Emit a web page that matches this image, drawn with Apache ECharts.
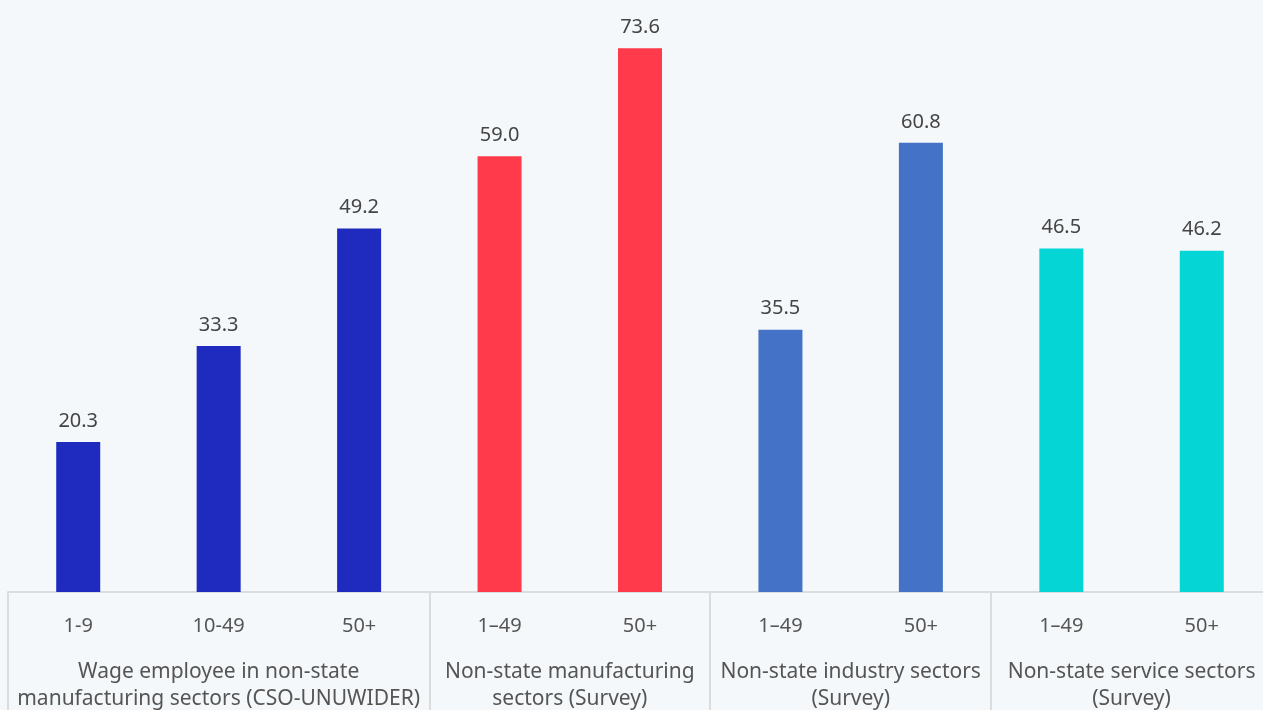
<!DOCTYPE html>
<html>
<head>
<meta charset="utf-8">
<script src="https://cdn.jsdelivr.net/npm/echarts@6/dist/echarts.min.js"></script>
<style>
  html, body { margin: 0; padding: 0; background: #f5f8fa; }
  #chart { width: 1263px; height: 710px; }
</style>
</head>
<body>
<div id="chart"></div>
<script>
// Firm-size bands within each sector group
const categories = ['1-9', '10-49', '50+', '1–49', '50+', '1–49', '50+', '1–49', '50+'];
const values = [20.3, 33.3, 49.2, 59.0, 73.6, 35.5, 60.8, 46.5, 46.2];
// Group index for each bar
const groupOf = [0, 0, 0, 1, 1, 2, 2, 3, 3];
const groupNames = [
  'Wage employee in non-state\nmanufacturing sectors (CSO-UNUWIDER)',
  'Non-state manufacturing\nsectors (Survey)',
  'Non-state industry sectors\n(Survey)',
  'Non-state service sectors\n(Survey)'
];
// Group label centres and boundaries, in category-band units
const groupCentres = [1.5, 4, 6, 8];
const groupEdges = [0, 3, 5, 7, 9];
const groupColors = ['#1f2abf', '#fe3a4b', '#4472c6', '#05d5d5'];

const chart = echarts.init(document.getElementById('chart'), null, { renderer: 'canvas' });

const fontFamily = '"Noto Sans", "Open Sans", sans-serif';

chart.setOption({
  backgroundColor: '#f5f8fa',
  animation: false,
  // the plot runs slightly past the right edge of the page
  grid: {
    left: 8, width: 1264, top: 1, height: 591,
    containLabel: false, outerBoundsMode: 'none'
  },
  xAxis: [
    {
      type: 'category',
      data: categories,
      boundaryGap: true,
      axisLine: { show: true, lineStyle: { color: '#dcdcdc', width: 2 } },
      axisTick: { show: false },
      axisLabel: {
        interval: 0,
        margin: 24,
        color: '#555',
        fontSize: 20,
        fontFamily: fontFamily
      }
    },
    {
      type: 'value',
      min: 0,
      max: 9,
      position: 'bottom',
      splitLine: { show: false },
      axisLine: { show: false },
      axisTick: {
        show: true,
        inside: false,
        length: 130,
        customValues: groupEdges,
        lineStyle: { color: '#dcdcdc', width: 2 }
      },
      axisLabel: {
        show: true,
        customValues: groupCentres,
        margin: 67,
        color: '#555',
        fontSize: 21,
        lineHeight: 27,
        fontFamily: fontFamily,
        formatter: function (v) {
          const i = groupCentres.indexOf(v);
          return i >= 0 ? groupNames[i] : '';
        }
      }
    }
  ],
  yAxis: {
    type: 'value',
    min: 0,
    max: 80,
    show: false,
    splitLine: { show: false }
  },
  series: [
    {
      type: 'bar',
      xAxisIndex: 0,
      barWidth: 44,
      data: values.map(function (v, i) {
        return { value: v, itemStyle: { color: groupColors[groupOf[i]] } };
      }),
      label: {
        show: true,
        position: 'top',
        distance: 11,
        color: '#444',
        fontSize: 20,
        fontFamily: fontFamily,
        formatter: function (p) { return p.value.toFixed(1); }
      }
    }
  ]
});
</script>
</body>
</html>
